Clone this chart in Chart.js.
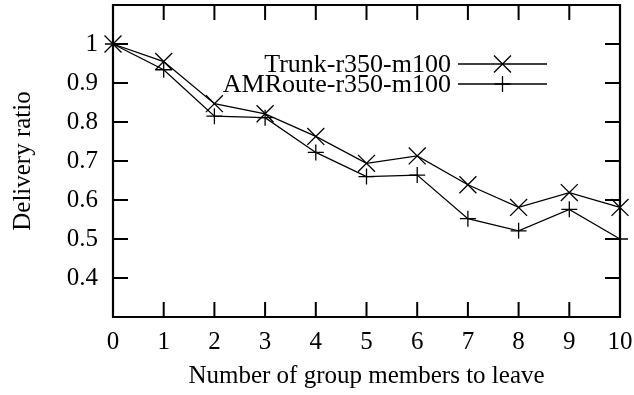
<!DOCTYPE html>
<html>
<head>
<meta charset="utf-8">
<script src="https://cdn.jsdelivr.net/npm/chart.js@4/dist/chart.umd.min.js"></script>
<style>
  html, body { margin: 0; padding: 0; background: #fff; }
  #wrap { width: 634px; height: 395px; }
</style>
</head>
<body>
<div id="wrap"><canvas id="grafico"></canvas></div>
<script>
'use strict'

// members leaving the group
const membersLeft = [0, 1, 2, 3, 4, 5, 6, 7, 8, 9, 10];
const trunkRatio = [1.0, 0.955, 0.847, 0.821, 0.763, 0.694, 0.713, 0.639, 0.581, 0.619, 0.581];
const amrouteRatio = [1.0, 0.934, 0.815, 0.811, 0.722, 0.660, 0.664, 0.552, 0.521, 0.576, 0.500];
const seriesNames = ['Trunk-r350-m100', 'AMRoute-r350-m100'];
const yTickLabels = ['0.4', '0.5', '0.6', '0.7', '0.8', '0.9', '1'];

const serif = '"Liberation Serif", "Times New Roman", serif';

const toPoints = arr => arr.map((v, i) => ({ x: membersLeft[i], y: v }));

// no extra room for edge labels, the frame sits at fixed margins
const noPad = s => { s.paddingTop = 0; s.paddingBottom = 0; s.paddingLeft = 0; s.paddingRight = 0; };

// plot box taken from the scales themselves
const plotBox = chart => {
  const { x, y } = chart.scales;
  return {
    left: x.getPixelForValue(x.min), right: x.getPixelForValue(x.max),
    top: y.getPixelForValue(y.max), bottom: y.getPixelForValue(y.min)
  };
};

// gnuplot-like frame: inward ticks on all four sides
const frame = {
  id: 'frame',
  afterDatasetsDraw(chart) {
    const { ctx, scales } = chart;
    const a = plotBox(chart);
    const len = 15;
    ctx.save();
    ctx.strokeStyle = '#000';
    ctx.lineWidth = 2.2;
    ctx.beginPath();
    ctx.rect(a.left, a.top, a.right - a.left, a.bottom - a.top);
    ctx.stroke();
    ctx.lineWidth = 2;
    ctx.beginPath();
    membersLeft.forEach(v => {
      if (v === scales.x.min || v === scales.x.max) return;
      const px = scales.x.getPixelForValue(v);
      ctx.moveTo(px, a.bottom); ctx.lineTo(px, a.bottom - len);
      ctx.moveTo(px, a.top); ctx.lineTo(px, a.top + len);
    });
    yTickLabels.forEach(t => {
      const py = scales.y.getPixelForValue(parseFloat(t));
      ctx.moveTo(a.left, py); ctx.lineTo(a.left + len, py);
      ctx.moveTo(a.right, py); ctx.lineTo(a.right - len, py);
    });
    ctx.stroke();
    ctx.restore();
  }
};

// key drawn inside the plot: text on the left, line sample with marker on the right
const key = {
  id: 'key',
  afterDraw(chart) {
    const { ctx } = chart;
    const a = plotBox(chart);
    const textRight = a.left + 338;
    const lineL = a.left + 345, lineR = a.left + 434;
    const rows = [a.top + 59, a.top + 79];
    ctx.save();
    ctx.font = '26px ' + serif;
    ctx.fillStyle = '#000';
    ctx.textAlign = 'right';
    ctx.textBaseline = 'middle';
    chart.data.datasets.forEach((ds, i) => {
      const y = rows[i];
      ctx.fillText(ds.label, textRight, y + 1);
      ctx.strokeStyle = '#000';
      ctx.lineWidth = 1.3;
      ctx.beginPath();
      ctx.moveTo(lineL, y); ctx.lineTo(lineR, y);
      ctx.stroke();
      Chart.helpers.drawPoint(ctx, {
        pointStyle: ds.pointStyle, radius: ds.pointRadius, borderWidth: 1.3
      }, (lineL + lineR) / 2, y);
    });
    ctx.restore();
  }
};

const config = {
  type: 'line',
  data: {
    datasets: [
      {
        label: seriesNames[0],
        data: toPoints(trunkRatio),
        borderColor: '#000',
        backgroundColor: '#000',
        borderWidth: 1.3,
        pointStyle: 'crossRot',
        pointRadius: 12,
        pointBorderWidth: 1.3,
        tension: 0
      },
      {
        label: seriesNames[1],
        data: toPoints(amrouteRatio),
        borderColor: '#000',
        backgroundColor: '#000',
        borderWidth: 1.3,
        pointStyle: 'cross',
        pointRadius: 8,
        pointBorderWidth: 1.3,
        tension: 0
      }
    ]
  },
  options: {
    responsive: true,
    maintainAspectRatio: false,
    animation: false,
    clip: false,
    layout: { autoPadding: false, padding: { top: 5, right: 14, left: 0, bottom: 0 } },
    plugins: { legend: { display: false }, tooltip: { enabled: false } },
    scales: {
      x: {
        type: 'linear',
        min: 0,
        max: 10,
        afterFit: s => { s.height = 78; noPad(s); },
        afterBuildTicks: s => { s.ticks = membersLeft.map(v => ({ value: v })); },
        ticks: {
          color: '#000',
          padding: 10,
          maxRotation: 0,
          font: { family: serif, size: 25 },
          callback: v => String(v)
        },
        grid: { display: false, drawTicks: false },
        border: { display: false },
        title: {
          display: true,
          text: 'Number of group members to leave',
          color: '#000',
          font: { family: serif, size: 25 },
          padding: { top: 0, bottom: 4 }
        }
      },
      y: {
        min: 0.3,
        max: 1.1,
        afterFit: s => { s.width = 113; noPad(s); },
        afterBuildTicks: s => { s.ticks = yTickLabels.map(t => ({ value: parseFloat(t) })); },
        ticks: {
          color: '#000',
          padding: 15,
          font: { family: serif, size: 25 },
          callback: (v, i) => yTickLabels[i]
        },
        grid: { display: false, drawTicks: false },
        border: { display: false },
        title: {
          display: true,
          text: 'Delivery ratio',
          color: '#000',
          font: { family: serif, size: 25 },
          padding: { top: 8, bottom: 0 }
        }
      }
    }
  },
  plugins: [frame, key]
};

const grafico = new Chart(document.querySelector('#grafico'), config);
</script>
</body>
</html>
